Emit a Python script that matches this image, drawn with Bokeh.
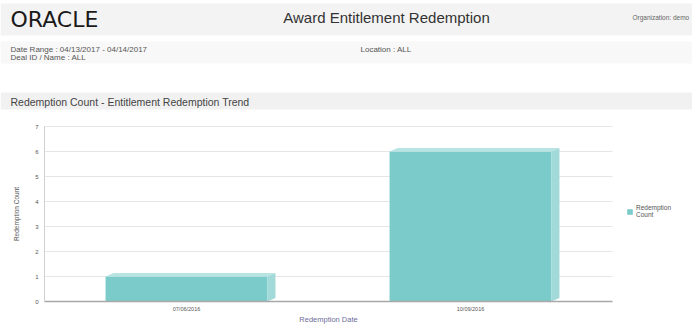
from bokeh.plotting import figure
from bokeh.models import (Range1d, FixedTicker, Legend, LegendItem, ColumnDataSource, Label,
                          BoxAnnotation, LinearAxis)
from bokeh.embed import file_html
from bokeh.resources import INLINE

# ---- data ----
dates = ["07/06/2016", "10/09/2016"]
counts = [1, 6]
y_ticks = [0, 1, 2, 3, 4, 5, 6, 7]
series_name = "Redemption\nCount"
report_title = "Award Entitlement Redemption"
brand = "ORACLE"
organization = "Organization: demo"
date_range = "Date Range : 04/13/2017 - 04/14/2017"
deal = "Deal ID / Name : ALL"
location = "Location : ALL"
section = "Redemption Count -  Entitlement Redemption Trend"
x_title = "Redemption Date"
y_title = "Redemption Count"

FONT = "Liberation Sans"
W, H = 692, 328
# where the chart's plotting area sits on the page (pixels, y downwards)
CL, CR, CT, CB = 44, 612, 126, 301
ymax = y_ticks[-1]
n = len(dates)
xpx = (CR - CL) / n
ypx = (CB - CT) / ymax

p = figure(frame_width=W, frame_height=H, sizing_mode="fixed", min_border=0,
           x_range=Range1d(-CL / xpx, n + (W - CR) / xpx),
           y_range=Range1d(-(H - CB) / ypx, ymax + CT / ypx),
           x_axis_location=None, y_axis_location=None,
           output_backend="svg", toolbar_location=None)
p.outline_line_color = None
p.grid.visible = False

# ---- page header (screen pixels from the frame's bottom-left) ----
def band(top, bottom, color):
    p.add_layout(BoxAnnotation(left=0, right=W, top=H - top, bottom=H - bottom,
                               left_units="screen", right_units="screen",
                               top_units="screen", bottom_units="screen",
                               fill_color=color, fill_alpha=1, line_color=None,
                               level="underlay"))

band(3, 35, "#f3f3f3")
band(41, 63, "#f8f8f8")
band(92, 109, "#f1f1f1")

def lab(x, y, t, size, color="#555555", align="left", font=FONT):
    p.add_layout(Label(x=x, y=H - y, text=t, text_font=font, text_font_size=size,
                       text_color=color, text_align=align, text_baseline="middle",
                       x_units="screen", y_units="screen"))

lab(10, 19, brand, "22px", "#1a1a1a", font="DejaVu Sans")
lab(386, 17, report_title, "15px", "#333333", align="center")
lab(632, 17, organization, "6.5px", "#666666")
lab(10, 49, date_range, "8px")
lab(10, 57, deal, "8px")
lab(360, 49, location, "8px")
lab(10, 101, section, "10.5px", "#444444")

# ---- gridlines at the y ticks ----
grid_y = y_ticks[1:]
p.segment(x0=[0] * len(grid_y), x1=[n] * len(grid_y), y0=grid_y, y1=grid_y,
          line_color="#e6e6e6", line_width=1)

# ---- bars with 3D faces ----
bw = 0.57
dx = 8 / xpx
dy = 3.5 / ypx
xs = [i + 0.5 for i in range(n)]
src = ColumnDataSource(dict(x=xs, top=counts))
front = p.vbar(x="x", top="top", width=bw, source=src, fill_color="#7ccbcb", line_color=None)

top_xs, top_ys, side_xs, side_ys = [], [], [], []
for x, v in zip(xs, counts):
    l, r = x - bw / 2, x + bw / 2
    top_xs.append([l, r, r + dx, l + dx])
    top_ys.append([v, v, v + dy, v + dy])
    side_xs.append([r, r + dx, r + dx, r])
    side_ys.append([0, dy, v + dy, v])
p.patches(top_xs, top_ys, fill_color="#b9e4e4", line_color=None)
p.patches(side_xs, side_ys, fill_color="#a2d9d9", line_color=None)

# ---- axes fixed at the chart origin ----
xaxis = LinearAxis(fixed_location=0, bounds=(0, n), ticker=FixedTicker(ticks=xs),
                   major_label_overrides={x: d for x, d in zip(xs, dates)},
                   major_tick_line_color=None, minor_tick_line_color=None,
                   major_tick_out=0, major_tick_in=0,
                   axis_line_color="#a8a8a8", axis_line_width=1.5,
                   major_label_text_font=FONT, major_label_text_font_size="5.5px",
                   major_label_text_color="#555555", major_label_standoff=4,
                   axis_label=x_title, axis_label_text_font=FONT,
                   axis_label_text_font_size="7.5px", axis_label_text_font_style="normal",
                   axis_label_text_color="#6e6e9a", axis_label_standoff=0)
p.add_layout(xaxis, "below")

yaxis = LinearAxis(fixed_location=0, bounds=(0, ymax), ticker=FixedTicker(ticks=y_ticks),
                   major_tick_line_color=None, minor_tick_line_color=None,
                   major_tick_out=0, major_tick_in=0,
                   axis_line_color="#d0d0d0",
                   major_label_text_font=FONT, major_label_text_font_size="6px",
                   major_label_text_color="#555555", major_label_standoff=6,
                   axis_label=y_title, axis_label_text_font=FONT,
                   axis_label_text_font_size="6.5px", axis_label_text_font_style="normal",
                   axis_label_text_color="#555555", axis_label_standoff=12)
p.add_layout(yaxis, "left")

legend = Legend(items=[LegendItem(label=series_name, renderers=[front])],
                location=(592, H - 218), margin=0, padding=0,
                glyph_width=7, glyph_height=7, label_standoff=3,
                label_text_font=FONT, label_text_font_size="6.5px",
                label_text_color="#555555", border_line_color=None,
                background_fill_alpha=0)
p.add_layout(legend)

open("out.html", "w").write(file_html(p, INLINE))
